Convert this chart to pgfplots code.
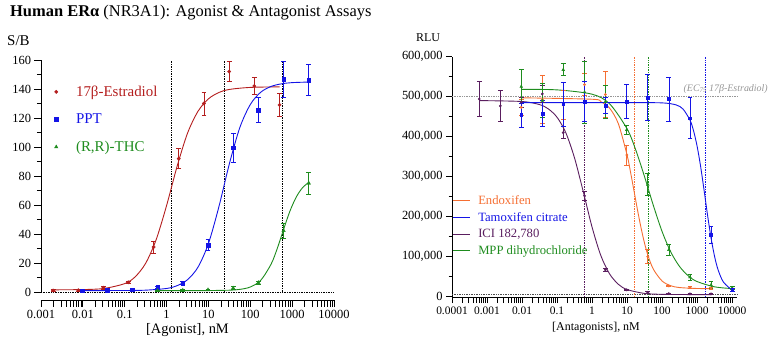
\documentclass[border=0pt]{standalone}
\usepackage{fontspec}
\setmainfont{Liberation Serif}
\usepackage{pgfplots}
\pgfplotsset{compat=1.18}
\definecolor{cRed}{RGB}{180,30,30}
\definecolor{cBlue}{RGB}{20,20,230}
\definecolor{cGreen}{RGB}{30,140,30}
\definecolor{cOrange}{RGB}{245,110,50}
\definecolor{cPurple}{RGB}{90,30,95}
\definecolor{cGray}{RGB}{150,150,150}
\pgfplotsset{
  ebar/.style={error bars/.cd, y dir=both, y explicit,
     error bar style={line width=0.7bp},
     error mark options={rotate=90, mark size=2.4bp, line width=0.7bp}, /pgfplots/.cd},
  refline/.style={densely dotted, line width=0.7bp, forget plot},
}
\begin{document}
\begin{tikzpicture}[x=1bp,y=1bp]
\useasboundingbox (0,0) rectangle (772,345);
\node[anchor=base west, inner sep=0, font=\fontsize{16.5}{20}\selectfont] at (10,329) {\textbf{Human ERα} (NR3A1): Agonist \& Antagonist Assays};
\node[anchor=base west, inner sep=0, font=\fontsize{15}{18}\selectfont] at (7,300) {S/B};
\node[anchor=base west, inner sep=0, font=\fontsize{12}{14}\selectfont] at (416,304) {RLU};
\node[anchor=base, inner sep=0, font=\fontsize{14.5}{17}\selectfont] at (187.5,12) {[Agonist], nM};
\node[anchor=base, inner sep=0, font=\fontsize{12}{14}\selectfont] at (596,15) {[Antagonists], nM};

% ---------------- left: agonist ----------------
\begin{axis}[
  at={(41bp,45bp)}, anchor=south west, scale only axis, width=293bp, height=240bp,
  xmode=log, xmin=0.001, xmax=10000, ymin=-5.5, ymax=160,
  axis x line*=bottom, axis y line*=left,
  y axis line style={shorten <=8bp},
  axis line style={line width=0.8bp},
  tick align=outside, major tick length=6.5bp, minor tick length=4bp,
  tick style={black, line width=0.8bp},
  xtick={0.001,0.002,0.003,0.004,0.005,0.006,0.007,0.008,0.009,
    0.01,0.02,0.03,0.04,0.05,0.06,0.07,0.08,0.09,
    0.1,0.2,0.3,0.4,0.5,0.6,0.7,0.8,0.9,
    1,2,3,4,5,6,7,8,9,
    10,20,30,40,50,60,70,80,90,
    100,200,300,400,500,600,700,800,900,
    1000,2000,3000,4000,5000,6000,7000,8000,9000,10000},
  xticklabels={0.001,,,,,,,,,0.01,,,,,,,,,0.1,,,,,,,,,1,,,,,,,,,10,,,,,,,,,100,,,,,,,,,1000,,,,,,,,,10000},
  ytick={0,20,40,60,80,100,120,140,160},
  yticklabels={0,20,40,60,80,100,120,140,160},
  minor ytick={10,30,50,70,90,110,130,150},
  tick label style={font=\fontsize{12.5}{14}\selectfont},
  clip=false,
  legend style={at={(axis description cs:0.035,0.91)}, anchor=north west, draw=none, fill=none,
     font=\fontsize{15}{18}\selectfont, row sep=12bp},
  legend cell align=left,
]
\addplot[refline, black] coordinates {(0.001,0) (10000,0)};
\addplot[refline, black] coordinates {(1.32,0) (1.32,160)};
\addplot[refline, black] coordinates {(23.5,0) (23.5,160)};
\addplot[refline, black] coordinates {(582,0) (582,160)};
% curves
\addplot[cRed, line width=0.9bp, smooth, forget plot] coordinates {
 (0.002,1.52) (0.01,1.70) (0.0316,2.44) (0.1,5.8) (0.178,10.5) (0.316,19.8) (0.562,36)
 (1,59.6) (1.778,86.5) (3.162,109.5) (5.623,124.6) (10,133.2) (17.78,137.6) (31.62,139.7)
 (100,141.1) (501,141.5)};
\addplot[cBlue, line width=0.9bp, smooth, forget plot] coordinates {
 (0.0095,1.0) (0.1,1.05) (0.316,1.28) (1,2.46) (1.778,4.36) (3.162,8.5) (5.623,17.1)
 (10,33.4) (17.78,58.8) (31.62,88.4) (56.23,113.4) (100,129.3) (177.8,137.8) (316.2,141.8)
 (562.3,143.6) (1000,144.4) (2512,144.8)};
\addplot[cGreen, line width=0.9bp, smooth, forget plot] coordinates {
 (0.59,1.0) (3.162,1.0) (10,1.03) (31.62,1.27) (56.23,1.82) (100,3.47) (177.8,8.1)
 (316.2,19.4) (446.7,30.5) (631,43.6) (891,56) (1259,65.6) (1778,72) (2512,75.7)};
% points
\addplot[cRed, only marks, mark=*, mark size=1.7bp, forget plot, ebar] coordinates {
 (0.00195,1) +- (0,0.8) (0.0078,1.2) +- (0,0.8) (0.031,3) +- (0,1) (0.122,6.7) +- (0,1)
 (0.49,31) +- (0,4) (1.95,92) +- (0,7) (7.8,130) +- (0,8) (31.25,152) +- (0,7)
 (125,142) +- (0,6) (500,129) +- (0,8)};
\addplot[cBlue, only marks, mark=square*, mark size=1.8bp, forget plot, ebar] coordinates {
 (0.0095,1) +- (0,0.5) (0.038,1.4) +- (0,0.5) (0.15,1.6) +- (0,0.5) (0.61,3.2) +- (0,1)
 (2.44,6.2) +- (0,1) (9.77,32.4) +- (0,3.7) (39,99.5) +- (0,9.8) (156,125.5) +- (0,8.5)
 (625,146.7) +- (0,12.5) (2500,146.2) +- (0,10.7)};
\addplot[cGreen, only marks, mark=triangle*, mark size=2bp, forget plot, ebar] coordinates {
 (0.61,1) +- (0,0.5) (2.44,1.2) +- (0,0.5) (9.77,1.5) +- (0,0.5) (39,2.7) +- (0,1)
 (156,6.5) +- (0,1) (625,42.3) +- (0,5) (2500,75) +- (0,7.8)};
\addlegendimage{only marks, mark=*, mark size=1.7bp, cRed}
\addlegendentry{\hspace*{16bp}\textcolor{cRed}{17β-Estradiol}}
\addlegendimage{only marks, mark=square*, mark size=1.8bp, cBlue}
\addlegendentry{\hspace*{16bp}\textcolor{cBlue}{PPT}}
\addlegendimage{only marks, mark=triangle*, mark size=2bp, cGreen}
\addlegendentry{\hspace*{16bp}\textcolor{cGreen}{(R,R)-THC}}
\end{axis}

% ---------------- right: antagonist ----------------
\begin{axis}[
  at={(452bp,48bp)}, anchor=south west, scale only axis, width=285bp, height=240.4bp,
  xmode=log, xmin=0.0001, xmax=13800, ymin=-1000, ymax=600000,
  axis x line*=bottom, axis y line*=left,
  axis line style={line width=0.8bp},
  tick align=outside, major tick length=6bp, minor tick length=3.5bp,
  tick style={black, line width=0.8bp},
  xtick={0.0001,0.0002,0.0003,0.0004,0.0005,0.0006,0.0007,0.0008,0.0009,
    0.001,0.002,0.003,0.004,0.005,0.006,0.007,0.008,0.009,
    0.01,0.02,0.03,0.04,0.05,0.06,0.07,0.08,0.09,
    0.1,0.2,0.3,0.4,0.5,0.6,0.7,0.8,0.9,
    1,2,3,4,5,6,7,8,9,
    10,20,30,40,50,60,70,80,90,
    100,200,300,400,500,600,700,800,900,
    1000,2000,3000,4000,5000,6000,7000,8000,9000,10000},
  xticklabels={0.0001,,,,,,,,,0.001,,,,,,,,,0.01,,,,,,,,,0.1,,,,,,,,,1,,,,,,,,,10,,,,,,,,,100,,,,,,,,,1000,,,,,,,,,10000},
  ytick={0,100000,200000,300000,400000,500000,600000},
  yticklabels={0,{100,000},{200,000},{300,000},{400,000},{500,000},{600,000}},
  minor ytick={50000,150000,250000,350000,450000,550000},
  scaled y ticks=false,
  xticklabel style={font=\fontsize{11.5}{13}\selectfont},
  yticklabel style={font=\fontsize{12.5}{14}\selectfont},
  clip=false,
  legend style={at={(axis description cs:-0.01,0.44)}, anchor=north west, draw=none, fill=none,
     font=\fontsize{12.7}{15}\selectfont, row sep=2.5bp},
  legend cell align=left,
]
\addplot[refline, cGray] coordinates {(0.0001,500000) (13800,500000)};
\addplot[refline, black!70] coordinates {(0.0001,5000) (13800,5000)};
\addplot[refline, cPurple] coordinates {(0.62,0) (0.62,600000)};
\addplot[refline, cOrange] coordinates {(16.2,0) (16.2,600000)};
\addplot[refline, cGreen] coordinates {(40.7,0) (40.7,600000)};
\addplot[refline, cBlue] coordinates {(1700,0) (1700,600000)};
% curves
\addplot[cPurple, line width=0.9bp, smooth, forget plot] coordinates {
 (0.00063,490000) (0.01,487700) (0.0316,480000) (0.0562,469300) (0.1,448300) (0.178,409700)
 (0.316,346500) (0.562,262000) (1,173700) (1.778,102800) (3.162,56800) (5.623,30900)
 (10,17600) (31.62,7900) (100,5650) (316.2,5200) (2512,5000)};
\addplot[cOrange, line width=0.9bp, smooth, forget plot] coordinates {
 (0.0095,497000) (1,493400) (1.778,487200) (3.162,471200) (5.623,432400) (10,353800)
 (12.59,310500) (15.85,263300) (19.95,215700) (25.12,171400) (31.62,133100) (39.81,102000)
 (56.23,68600) (100,39000) (177.8,27100) (316.2,22600) (1000,20300) (2512,20000)};
\addplot[cGreen, line width=0.9bp, smooth, forget plot] coordinates {
 (0.0095,518000) (0.1,516800) (1,506000) (3.162,482000) (10,419400) (17.78,366000)
 (31.62,299500) (56.23,228000) (100,162700) (177.8,111200) (316.2,75100) (562.3,51800)
 (1000,37600) (3162,24400) (10000,20000)};
\addplot[cBlue, line width=0.9bp, smooth, forget plot] coordinates {
 (0.0095,485000) (1,485000) (10,485000) (100,484300) (251.2,479200) (398.1,468600)
 (631,440600) (794.3,414300) (1000,376000) (1259,325600) (1585,265400) (1995,202800)
 (2512,145900) (3162,100100) (3981,66900) (5623,36600) (10000,15900)};
% points
\addplot[cPurple, only marks, mark=*, mark size=1.2bp, forget plot, ebar] coordinates {
 (0.0006,494000) +- (0,44000) (0.0024,476700) +- (0,39000) (0.0095,486000) +- (0,12000)
 (0.038,506700) +- (0,22000) (0.15,410000) +- (0,15000) (0.61,252000) +- (0,12000)
 (2.4,67000) +- (0,4000) (9.8,17000) +- (0,2000) (39,10500) +- (0,2000)
 (156,7500) +- (0,1000) (625,6700) +- (0,1000) (2500,6700) +- (0,1000)};
\addplot[cOrange, only marks, mark=*, mark size=1.2bp, forget plot, ebar] coordinates {
 (0.0095,473000) +- (0,20000) (0.038,492000) +- (0,60000) (0.15,479000) +- (0,37000)
 (0.61,530000) +- (0,28000) (2.4,505000) +- (0,57000) (9.8,354000) +- (0,25000)
 (39,100000) +- (0,18000) (156,26700) +- (0,2000) (625,22500) +- (0,2000) (2500,21000) +- (0,2000)};
\addplot[cGreen, only marks, mark=triangle*, mark size=1.6bp, forget plot, ebar] coordinates {
 (0.0095,525000) +- (0,43000) (0.038,490000) +- (0,42000) (0.15,567000) +- (0,15000)
 (0.61,511000) +- (0,78000) (2.4,487000) +- (0,42000) (9.8,417000) +- (0,12000)
 (39,280000) +- (0,28000) (156,117000) +- (0,14000) (625,48500) +- (0,8000)
 (2500,29000) +- (0,8000) (10000,22000) +- (0,4000)};
\addplot[cBlue, only marks, mark=square*, mark size=1.4bp, forget plot, ebar] coordinates {
 (0.0095,454000) +- (0,30000) (0.038,458000) +- (0,33000) (0.15,481700) +- (0,55000)
 (0.61,487000) +- (0,50000) (2.4,478000) +- (0,20000) (9.8,487500) +- (0,42000)
 (39,497500) +- (0,57000) (156,494000) +- (0,55000) (625,446000) +- (0,51000)
 (2500,154000) +- (0,21000) (10000,16700) +- (0,3000)};
\addlegendimage{cOrange, line width=0.9bp}
\addlegendentry{\hspace*{6bp}\textcolor{cOrange}{Endoxifen}}
\addlegendimage{cBlue, line width=0.9bp}
\addlegendentry{\hspace*{6bp}\textcolor{cBlue}{Tamoxifen citrate}}
\addlegendimage{cPurple, line width=0.9bp}
\addlegendentry{\hspace*{6bp}\textcolor{cPurple}{ICI 182,780}}
\addlegendimage{cGreen, line width=0.9bp}
\addlegendentry{\hspace*{6bp}\textcolor{cGreen}{MPP dihydrochloride}}
\end{axis}
\node[anchor=base east, inner sep=0, text=cGray, font=\fontsize{10}{12}\selectfont\itshape] at (768,254) {(EC{\fontsize{7}{8}\selectfont\raisebox{-0.4ex}{75}} 17β-Estradiol)};
\end{tikzpicture}
\end{document}
